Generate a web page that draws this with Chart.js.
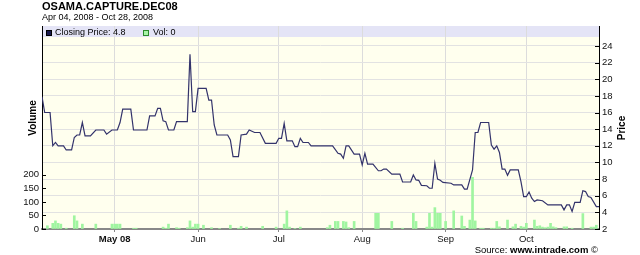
<!DOCTYPE html>
<html>
<head>
<meta charset="utf-8">
<script src="https://cdn.jsdelivr.net/npm/chart.js@4.4.1/dist/chart.umd.min.js"></script>
<style>
  body { margin: 0; background: #fff; font-family: "Liberation Sans", Arial, sans-serif; }
  #wrap { position: relative; width: 640px; height: 255px; overflow: hidden; }
  canvas { position: absolute; left: 0; top: 0; }
  .txt { position: absolute; white-space: nowrap; color: #000; }
</style>
</head>
<body>
<div id="wrap">
  <canvas id="chart" width="640" height="255"></canvas>
  <div class="txt" style="left:42px;top:0px;font-size:11px;line-height:13px;font-weight:bold">OSAMA.CAPTURE.DEC08</div>
  <div class="txt" style="left:42px;top:12px;font-size:9px;line-height:11px">Apr 04, 2008 - Oct 28, 2008</div>
  <div class="txt" style="right:42px;top:244px;font-size:9.5px;line-height:11px">Source: <b>www.intrade.com</b> &copy;</div>
</div>
<script>
// days counted from Apr 04, 2008
var priceDays = [0, 1, 3, 4, 5, 6, 8, 9, 11, 12, 13, 14, 15, 16, 18, 20, 23, 24, 26, 28,
  29, 30, 33, 34, 39, 40, 42, 43, 44, 45, 46, 47, 49, 50, 54, 55, 56, 57, 58, 61,
  62, 63, 64, 65, 69, 70, 71, 73, 74, 76, 77, 79, 81, 83, 87, 88, 89, 90, 91, 93,
  94, 95, 96, 97, 99, 100, 108, 110, 111, 112, 113, 114, 116, 118, 119, 120, 121, 123, 125, 126,
  127, 128, 130, 133, 134, 137, 138, 139, 140, 141, 143, 144, 145, 146, 147, 148, 149, 152, 153, 156,
  157, 158, 160, 161, 162, 163, 166, 167, 168, 169, 170, 171, 172, 173, 174, 177, 178, 179, 180, 181,
  182, 183, 184, 186, 188, 193, 194, 195, 196, 197, 198, 200, 201, 202, 203, 204, 206, 207];
var priceValues = [17.9, 16.0, 16.0, 12.0, 12.4, 12.0, 12.0, 11.5, 11.5, 13.0, 13.3, 13.3, 14.8, 13.2, 13.2, 13.9, 13.9, 13.4, 13.9, 13.9,
  14.8, 16.4, 16.4, 13.9, 13.9, 15.6, 15.6, 16.5, 16.5, 15.0, 14.9, 13.9, 13.9, 14.9, 14.9, 23.0, 16.1, 16.1, 18.9, 18.9,
  17.5, 17.5, 14.5, 13.3, 13.3, 12.7, 10.7, 10.7, 13.3, 13.4, 13.9, 13.6, 13.6, 12.3, 12.3, 12.9, 12.9, 14.7, 12.6, 12.6,
  11.9, 11.9, 12.9, 12.4, 12.4, 12.0, 12.0, 11.1, 11.0, 10.5, 12.0, 12.0, 11.0, 11.0, 9.7, 11.1, 9.8, 9.8, 9.0, 9.0,
  9.2, 9.2, 8.6, 8.6, 7.65, 7.65, 8.5, 7.9, 7.85, 7.25, 7.2, 6.9, 6.9, 9.9, 8.0, 7.85, 7.6, 7.5, 7.3, 7.3,
  6.8, 6.8, 9.1, 13.6, 13.6, 14.8, 14.8, 12.1, 11.6, 12.0, 11.2, 9.2, 9.2, 8.45, 9.1, 9.1, 7.7, 5.9, 5.9, 6.45,
  5.7, 5.3, 5.5, 5.4, 4.9, 4.9, 4.3, 4.9, 4.9, 4.1, 5.2, 5.2, 6.6, 6.5, 5.9, 5.8, 4.7, 4.7];

var volDays = [2, 4, 5, 6, 7, 9, 12, 13, 15, 20, 26, 27, 28, 29, 34, 35, 45, 46, 47, 50,
  51, 54, 55, 56, 57, 58, 60, 63, 66, 70, 73, 74, 76, 82, 87, 90, 91, 92, 94, 96,
  106, 107, 109, 110, 112, 113, 114, 116, 124, 125, 130, 134, 138, 139, 143, 144, 145, 146, 147, 148,
  150, 153, 156, 157, 159, 160, 161, 163, 164, 167, 168, 169, 170, 173, 175, 176, 178, 179, 180, 183,
  184, 185, 186, 187, 188, 189, 190, 191, 194, 195, 197, 201, 204, 205, 206];
var volValues = [12, 21, 30, 21, 18, 3, 49, 30, 18, 18, 18, 18, 18, 18, 3, 3, 7, 3, 18, 5,
  3, 5, 30, 7, 18, 18, 14, 5, 2, 14, 3, 10, 7, 10, 7, 18, 67, 7, 2, 7,
  5, 14, 28, 28, 28, 26, 5, 28, 58, 58, 28, 3, 58, 28, 7, 58, 7, 79, 58, 58,
  28, 67, 48, 10, 33, 191, 30, 3, 3, 3, 3, 28, 8, 33, 8, 18, 10, 7, 21, 33,
  10, 12, 7, 5, 7, 21, 8, 5, 8, 8, 3, 57, 7, 7, 14];

var monthTickDays = [27, 58, 88, 119, 150, 180];
var monthTickLabels = ["May 08", "Jun", "Jul", "Aug", "Sep", "Oct"];
var priceTicks = [2, 4, 6, 8, 10, 12, 14, 16, 18, 20, 22, 24];
var volTicks = [0, 50, 100, 150, 200];

var fontName = "'Liberation Sans', Arial, sans-serif";

var chartDecor = {
  id: "chartDecor",
  beforeDraw: function (chart) {
    var ctx = chart.ctx, a = chart.chartArea;
    ctx.save();
    ctx.fillStyle = "#ffffee";
    ctx.fillRect(a.left, a.top, a.right - a.left, a.bottom - a.top);
    ctx.fillStyle = "#e4e4f6";
    ctx.fillRect(a.left, a.top, a.right - a.left, 11);
    ctx.restore();
  },
  afterDraw: function (chart) {
    var ctx = chart.ctx, a = chart.chartArea;
    var vol = chart.scales.vol, price = chart.scales.price;
    ctx.save();
    // ticks point into the plot
    ctx.strokeStyle = "#000";
    ctx.lineWidth = 1;
    ctx.beginPath();
    volTicks.forEach(function (v) {
      var y = Math.round(vol.getPixelForValue(v)) + 0.5;
      ctx.moveTo(a.left, y); ctx.lineTo(a.left + 4, y);
    });
    priceTicks.forEach(function (v) {
      var y = Math.round(price.getPixelForValue(v)) + 0.5;
      ctx.moveTo(a.right - 4, y); ctx.lineTo(a.right, y);
    });
    ctx.stroke();

    // legend inside top band
    ctx.fillStyle = "#1a1a4d";
    ctx.fillRect(46, 30, 6, 6);
    ctx.strokeStyle = "#000";
    ctx.strokeRect(46.5, 30.5, 5, 5);
    ctx.fillStyle = "#a8f5a8";
    ctx.fillRect(143, 30, 6, 6);
    ctx.strokeStyle = "#2d8a2d";
    ctx.strokeRect(143.5, 30.5, 5, 5);
    ctx.fillStyle = "#000";
    ctx.font = "9px " + fontName;
    ctx.textBaseline = "alphabetic";
    ctx.fillText("Closing Price: 4.8", 55, 35);
    ctx.fillText("Vol: 0", 153, 35);

    // axis titles
    ctx.font = "bold 10px " + fontName;
    ctx.textAlign = "center";
    ctx.textBaseline = "middle";
    ctx.translate(33, 118);
    ctx.rotate(-Math.PI / 2);
    ctx.fillText("Volume", 0, 0);
    ctx.setTransform(1, 0, 0, 1, 0, 0);
    ctx.translate(622, 128);
    ctx.rotate(-Math.PI / 2);
    ctx.fillText("Price", 0, 0);
    ctx.restore();
  }
};

new Chart(document.getElementById("chart"), {
  type: "bar",
  data: {
    datasets: [
      {
        type: "line",
        label: "Closing Price",
        data: priceDays.map(function (d, i) { return { x: d, y: priceValues[i] }; }),
        yAxisID: "price",
        borderColor: "#33336b",
        borderWidth: 1.2,
        pointRadius: 0,
        tension: 0,
        order: 0
      },
      {
        type: "bar",
        label: "Vol",
        data: volDays.map(function (d, i) { return { x: d, y: volValues[i] }; }),
        yAxisID: "vol",
        backgroundColor: "#a0f5a0",
        barThickness: 2,
        order: 1
      }
    ]
  },
  options: {
    responsive: false,
    animation: false,
    devicePixelRatio: 1,
    layout: { padding: { top: 26, left: 0, right: 0, bottom: 0 } },
    plugins: { legend: { display: false }, tooltip: { enabled: false } },
    scales: {
      x: {
        type: "linear",
        min: 0,
        max: 207,
        offset: false,
        afterBuildTicks: function (s) { s.ticks = monthTickDays.map(function (v) { return { value: v }; }); },
        afterFit: function (s) { s.height = 26; },
        grid: { color: "#dcdcdc", offset: false, tickLength: 3, tickColor: "#888" },
        border: { color: "#888", width: 2 },
        ticks: {
          autoSkip: false,
          maxRotation: 0,
          padding: 2,
          color: "#111",
          font: function (ctx) {
            return { family: fontName, size: 9.5, weight: ctx.index === 0 ? "bold" : "normal" };
          },
          callback: function (v, i) { return monthTickLabels[i]; }
        }
      },
      vol: {
        position: "left",
        min: 0,
        max: 750,
        afterBuildTicks: function (s) { s.ticks = volTicks.map(function (v) { return { value: v }; }); },
        afterFit: function (s) { s.width = 42; },
        grid: { drawOnChartArea: false, drawTicks: false },
        border: { color: "#000", width: 1 },
        ticks: { padding: 3, color: "#111", font: { family: fontName, size: 9.5 } }
      },
      price: {
        position: "right",
        min: 2,
        max: 26.4,
        afterBuildTicks: function (s) { s.ticks = priceTicks.map(function (v) { return { value: v }; }); },
        afterFit: function (s) { s.width = 41; },
        grid: { color: "#e2e2e2", drawTicks: false },
        border: { color: "#000", width: 1 },
        ticks: { padding: 3, color: "#111", font: { family: fontName, size: 9.5 } }
      }
    }
  },
  plugins: [chartDecor]
});
</script>
</body>
</html>
